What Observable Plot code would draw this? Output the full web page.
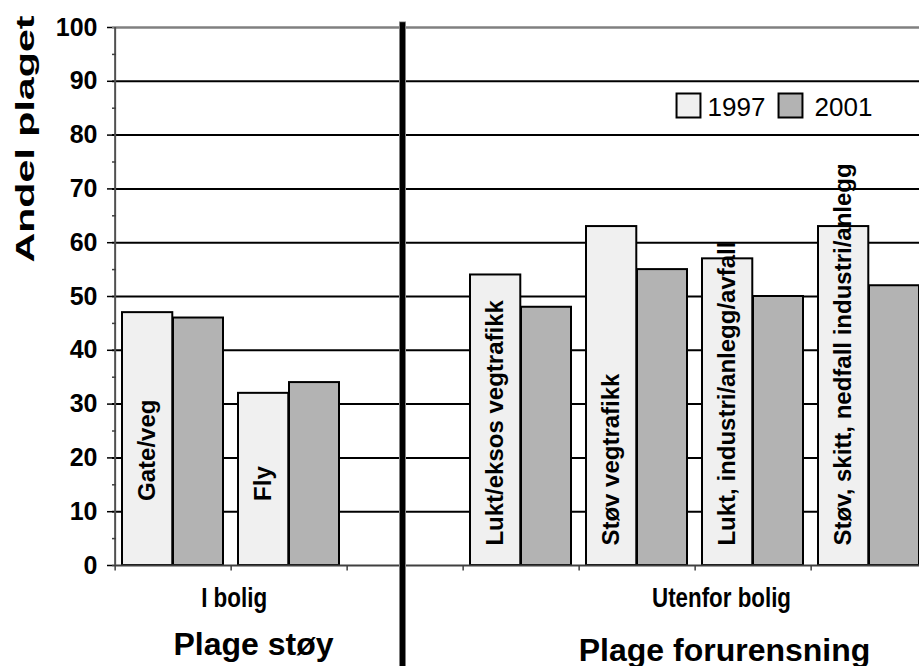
<!DOCTYPE html>
<html>
<head>
<meta charset="utf-8">
<script src="https://cdn.jsdelivr.net/npm/d3@7"></script>
<script src="https://cdn.jsdelivr.net/npm/@observablehq/plot@0.6"></script>
<style>
  html, body { margin: 0; padding: 0; background: white; overflow: hidden; }
  #chart svg { display: block; }
</style>
</head>
<body>
<div id="chart"></div>
<script>
// ---- data ----
const categories = ["Gate/veg", "Fly", " ", "Lukt/eksos vegtrafikk", "Støv vegtrafikk", "Lukt, industri/anlegg/avfall", "Støv, skitt, nedfall industri/anlegg"];
const values1997 = [47, 32, null, 54, 63, 57, 63];
const values2001 = [46, 34, null, 48, 55, 50, 52];
const years = ["1997", "2001"];
const yTicks = [0, 10, 20, 30, 40, 50, 60, 70, 80, 90, 100];
const yMinorTicks = [5, 15, 25, 35, 45, 55, 65, 75, 85, 95];
const gridValues = [10, 20, 30, 40, 50, 60, 70, 80, 90];
const yTitle = "Andel plaget";
const groupLabels = ["I bolig", "Utenfor bolig"];
const groupTitles = ["Plage støy", "Plage forurensning"];

const colors = {"1997": "#f0f0f0", "2001": "#b3b3b3"};
const rows = categories.map((c, i) => ({category: c, i, v1997: values1997[i], v2001: values2001[i]}))
  .filter(d => d.v1997 != null);

const xRange = [112, 929];
const step = (xRange[1] - xRange[0]) / categories.length;
const font = "Liberation Sans, Arial, sans-serif";

const chart = Plot.plot({
  width: 919,
  height: 666,
  marginLeft: 112,
  marginRight: 0,
  marginTop: 27,
  marginBottom: 101,
  x: {type: "band", domain: categories, range: xRange, padding: 0, axis: null},
  y: {domain: [0, 100], axis: null},
  style: {fontFamily: font, color: "black", background: "white"},
  marks: [
    // gridlines
    Plot.ruleY(gridValues, {stroke: "black", strokeWidth: 2}),
    Plot.ruleY([100], {stroke: "#808080", strokeWidth: 2.5}),
    // bars
    Plot.barY(rows, {x: "category", y: "v1997", fill: colors["1997"], stroke: "black", strokeWidth: 2, insetLeft: 7, insetRight: step - 58}),
    Plot.barY(rows, {x: "category", y: "v2001", fill: colors["2001"], stroke: "black", strokeWidth: 2, insetLeft: 58, insetRight: 8}),
    // bar labels
    Plot.text(rows, {
      x: "category", y: d => d.i < 2 ? 12 : 3.7, text: "category",
      rotate: -90, textAnchor: "start", lineAnchor: "middle", dx: 7 + 25.5 - step / 2,
      fontSize: 24, fontWeight: "bold", fill: "black"
    }),
    // axes
    Plot.ruleY([0], {stroke: "#404040", strokeWidth: 2}),
    Plot.ruleX([categories[0]], {dx: -step / 2, y1: 0, y2: 100, stroke: "#505050", strokeWidth: 2}),
    Plot.ruleX(categories, {dx: -step / 2, y1: 0, y2: -1, stroke: "#404040", strokeWidth: 1.5}),
    Plot.axisY({ticks: yTicks, tickSize: 5, tickPadding: 10, fontSize: 25, fontWeight: "bold", label: null, stroke: "black", strokeWidth: 1.5}),
    Plot.axisY({ticks: yMinorTicks, tickSize: -4, tickFormat: () => "", label: null, stroke: "#404040", strokeWidth: 1.5}),
    // divider
    Plot.ruleX([" "], {dx: -3, y1: -19, y2: 101, stroke: "#808080", strokeWidth: 7}),
    Plot.ruleX([" "], {dx: -3, y1: -19, y2: 100.9, stroke: "black", strokeWidth: 5}),
    // y title
    Plot.text([yTitle], {frameAnchor: "left", dx: -87, dy: -34, rotate: -90, textAnchor: "start", lineAnchor: "middle", text: d => d, fontSize: 26, fontWeight: "bold"}),
    // group labels
    Plot.text([groupLabels[0]], {x: () => "Fly", frameAnchor: "bottom", lineAnchor: "middle", dx: -step / 2 + 3, dy: 33, text: d => d, fontSize: 27, fontWeight: "bold"}),
    Plot.text([groupLabels[1]], {x: () => "Lukt, industri/anlegg/avfall", frameAnchor: "bottom", lineAnchor: "middle", dx: -32, dy: 33, text: d => d, fontSize: 27, fontWeight: "bold"}),
    Plot.text([groupTitles[0]], {x: () => "Fly", frameAnchor: "bottom", lineAnchor: "middle", dx: -36, dy: 79, text: d => d, fontSize: 32, fontWeight: "bold"}),
    Plot.text([groupTitles[1]], {x: () => "Lukt, industri/anlegg/avfall", frameAnchor: "bottom", lineAnchor: "middle", dx: -29, dy: 85, text: d => d, fontSize: 32, fontWeight: "bold"}),
    // legend
    Plot.dot([years[0]], {frameAnchor: "top-left", dx: 576, dy: 78, symbol: "square", r: 13.5, fill: colors["1997"], stroke: "black", strokeWidth: 2}),
    Plot.dot([years[1]], {frameAnchor: "top-left", dx: 678, dy: 78, symbol: "square", r: 13.5, fill: colors["2001"], stroke: "black", strokeWidth: 2}),
    Plot.text([years[0]], {frameAnchor: "top-left", lineAnchor: "middle", dx: 595, dy: 80, text: d => d, textAnchor: "start", fontSize: 26}),
    Plot.text([years[1]], {frameAnchor: "top-left", lineAnchor: "middle", dx: 702, dy: 80, text: d => d, textAnchor: "start", fontSize: 26})
  ]
});

document.getElementById("chart").appendChild(chart);

const stretch = {[yTitle]: 247, [groupLabels[0]]: 66, [groupLabels[1]]: 139};
d3.select(chart).selectAll("text")
  .filter(function() { return stretch[this.textContent] != null; })
  .each(function() {
    d3.select(this)
      .attr("textLength", stretch[this.textContent])
      .attr("lengthAdjust", "spacingAndGlyphs");
  });
</script>
</body>
</html>
